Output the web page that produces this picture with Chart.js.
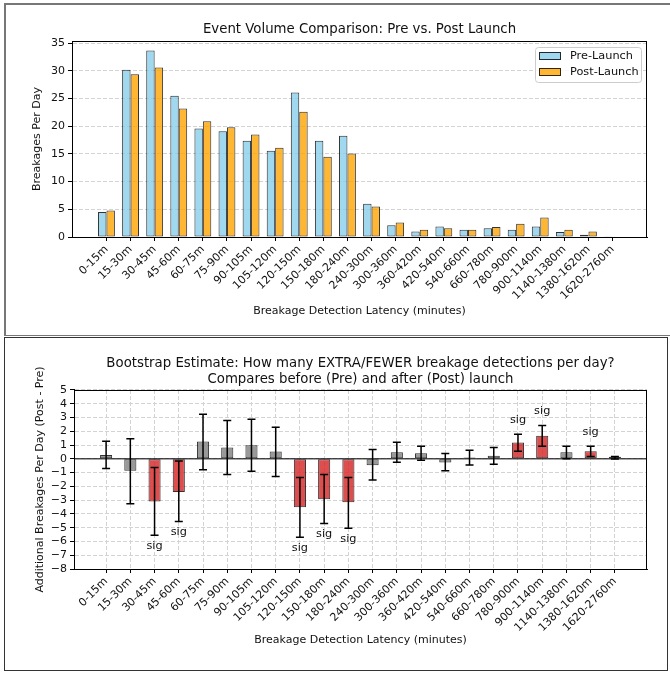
<!DOCTYPE html>
<html lang="en">
<head>
<meta charset="UTF-8" />
<title>Breakage Detection Latency: Pre vs. Post Launch</title>
<script src="https://cdn.jsdelivr.net/npm/chart.js"></script>
<style>
  body { margin: 0; background: #fff; }
  #page { position: relative; width: 670px; height: 673px; overflow: hidden; }
  .rule { position: absolute; background: #777; }
  #bottomFrame { position: absolute; box-sizing: border-box; left: 4px; top: 337px; width: 664px; height: 334px; border: 1.5px solid #333; }
  canvas { position: absolute; left: 0; }
  #topChart { top: 0; }
  #bottomChart { top: 337px; }
</style>
</head>
<body>
<div id="page">
  <div class="rule" style="left:4px; top:3px; width:666px; height:1.5px;"></div>
  <div class="rule" style="left:4px; top:3px; width:1.5px; height:333px;"></div>
  <div class="rule" style="left:4px; top:334.5px; width:666px; height:1.5px;"></div>
  <div id="bottomFrame"></div>
  <canvas id="topChart" width="660" height="333"></canvas>
  <canvas id="bottomChart" width="660" height="332"></canvas>
</div>

<script>
// latency bins (x categories)
const bins = ['0-15m', '15-30m', '30-45m', '45-60m', '60-75m', '75-90m', '90-105m', '105-120m',
  '120-150m', '150-180m', '180-240m', '240-300m', '300-360m', '360-420m', '420-540m', '540-660m',
  '660-780m', '780-900m', '900-1140m', '1140-1380m', '1380-1620m', '1620-2760m'];

// breakages per day
const preLaunch  = [4.5, 30.2, 33.7, 25.5, 19.6, 19.1, 17.4, 15.6, 26.1, 17.4, 18.3, 6.0, 2.1, 1.0, 1.9, 1.3, 1.6, 1.3, 1.9, 0.9, 0.4, 0.05];
const postLaunch = [4.8, 29.4, 30.6, 23.2, 20.9, 19.8, 18.5, 16.1, 22.6, 14.5, 15.1, 5.5, 2.6, 1.3, 1.6, 1.3, 1.8, 2.4, 3.5, 1.3, 1.0, 0.1];
const topYTicks = [0, 5, 10, 15, 20, 25, 30, 35];

// bootstrap difference (post - pre) with confidence interval
const diffMean = [0.27, -0.87, -3.1, -2.4, 1.26, 0.82, 0.99, 0.53, -3.51, -2.93, -3.15, -0.46, 0.48, 0.41, -0.27, 0.1, 0.22, 1.19, 1.67, 0.48, 0.56, 0.15];
const ciLow  = [-0.7, -3.27, -5.55, -4.55, -0.8, -1.14, -0.9, -1.28, -5.69, -4.7, -5.04, -1.53, -0.24, -0.1, -0.87, -0.44, -0.39, 0.56, 0.92, 0.0, 0.17, -0.02];
const ciHigh = [1.28, 1.45, -0.63, -0.15, 3.24, 2.78, 2.88, 2.3, -1.36, -1.14, -1.36, 0.68, 1.21, 0.92, 0.39, 0.63, 0.82, 1.79, 2.42, 0.92, 0.92, 0.17];
const significant = [false, false, true, true, false, false, false, false, true, true, true, false, false, false, false, false, false, true, true, false, true, false];
const bottomYTicks = [-8, -7, -6, -5, -4, -3, -2, -1, 0, 1, 2, 3, 4, 5];

const FONT = "'DejaVu Sans', sans-serif";
Chart.defaults.font.family = FONT;
Chart.defaults.color = '#111';
Chart.defaults.animation = false;

const GRID = '#d3d3d3';
const PRE_COLOR = 'rgba(135,206,235,0.8)';
const POST_COLOR = 'rgba(255,165,0,0.8)';
const EDGE = 'rgba(0,0,0,0.8)';

// box around the plot area (matplotlib spines)
const spines = {
  id: 'spines',
  afterDraw(chart) {
    const { ctx, chartArea: a } = chart;
    ctx.save();
    ctx.strokeStyle = '#000';
    ctx.lineWidth = 1;
    ctx.strokeRect(a.left + 0.5, a.top + 0.5, a.right - a.left - 1, a.bottom - a.top);
    ctx.restore();
  }
};

// legend drawn inside the plot, upper right
const insideLegend = {
  id: 'insideLegend',
  afterDraw(chart) {
    const { ctx, chartArea: a } = chart;
    const w = 106, h = 35;
    const bx = a.right - 6 - w, by = a.top + 6;
    ctx.save();
    ctx.fillStyle = 'rgba(255,255,255,0.8)';
    ctx.strokeStyle = '#cccccc';
    ctx.lineWidth = 1;
    ctx.beginPath();
    ctx.roundRect(bx + 0.5, by + 0.5, w, h, 3);
    ctx.fill();
    ctx.stroke();
    ctx.font = '11.3px ' + FONT;
    ctx.textBaseline = 'middle';
    chart.data.datasets.forEach((ds, i) => {
      const cy = by + 9 + i * 16;
      ctx.fillStyle = ds.backgroundColor;
      ctx.fillRect(bx + 4, cy - 4, 22, 8);
      ctx.strokeStyle = EDGE;
      ctx.strokeRect(bx + 4.5, cy - 3.5, 21, 7);
      ctx.fillStyle = '#111';
      ctx.fillText(ds.label, bx + 35, cy);
    });
    ctx.restore();
  }
};

// zero line, bootstrap CI whiskers and "sig" markers
const errorBars = {
  id: 'errorBars',
  afterDatasetsDraw(chart) {
    const { ctx, chartArea: a, scales: { x, y } } = chart;
    ctx.save();
    const y0 = y.getPixelForValue(0);
    ctx.strokeStyle = 'rgba(0,0,0,0.7)';
    ctx.lineWidth = 1.5;
    ctx.beginPath();
    ctx.moveTo(a.left, y0);
    ctx.lineTo(a.right, y0);
    ctx.stroke();

    ctx.strokeStyle = '#000';
    ctx.lineWidth = 1.5;
    ctx.font = '11.3px ' + FONT;
    ctx.textAlign = 'center';
    ctx.textBaseline = 'middle';
    bins.forEach((b, i) => {
      const px = x.getPixelForValue(i);
      const lo = y.getPixelForValue(ciLow[i]);
      const hi = y.getPixelForValue(ciHigh[i]);
      ctx.beginPath();
      ctx.moveTo(px, lo); ctx.lineTo(px, hi);
      ctx.moveTo(px - 4, lo); ctx.lineTo(px + 4, lo);
      ctx.moveTo(px - 4, hi); ctx.lineTo(px + 4, hi);
      ctx.stroke();
      if (significant[i]) {
        ctx.fillStyle = '#111';
        if (diffMean[i] < 0) ctx.fillText('sig', px, lo + 11);
        else ctx.fillText('sig', px, hi - 14);
      }
    });
    ctx.restore();
  }
};

function binAxis(min, max, onChart) {
  return {
    type: 'linear',
    min: min,
    max: max,
    offset: false,
    afterBuildTicks: axis => { axis.ticks = bins.map((b, i) => ({ value: i })); },
    ticks: {
      autoSkip: false,
      minRotation: 45,
      maxRotation: 45,
      padding: 2,
      font: { size: 11 },
      callback: v => bins[v]
    },
    grid: {
      offset: false,
      drawOnChartArea: onChart,
      color: GRID,
      tickColor: '#000',
      tickLength: 4
    },
    border: { color: '#000', dash: onChart ? [4, 2] : [] },
    title: {
      display: true,
      text: 'Breakage Detection Latency (minutes)',
      font: { size: 11 },
      padding: { top: 0, bottom: 0 }
    }
  };
}

new Chart(document.getElementById('topChart'), {
  type: 'bar',
  data: {
    datasets: [
      { label: 'Pre-Launch', data: preLaunch.map((v, i) => ({ x: i, y: v })),
        backgroundColor: PRE_COLOR, borderColor: EDGE, borderWidth: 1, borderSkipped: false },
      { label: 'Post-Launch', data: postLaunch.map((v, i) => ({ x: i, y: v })),
        backgroundColor: POST_COLOR, borderColor: EDGE, borderWidth: 1, borderSkipped: false }
    ]
  },
  options: {
    responsive: false,
    categoryPercentage: 0.7,
    barPercentage: 1.0,
    layout: { padding: { left: 30.4, right: 13, top: 20, bottom: 15.4 } },
    plugins: {
      legend: { display: false },
      tooltip: { enabled: false },
      title: {
        display: true,
        fullSize: false,
        text: 'Event Volume Comparison: Pre vs. Post Launch',
        font: { size: 13.3, weight: 'normal' },
        color: '#111',
        padding: { top: 2.02, bottom: 3.02 }
      }
    },
    scales: {
      x: Object.assign(binAxis(-1.43, 22.43, false), {
        afterFit: axis => { axis.height = 80.6; }
      }),
      y: {
        min: 0,
        max: 35.4,
        afterBuildTicks: axis => { axis.ticks = topYTicks.map(v => ({ value: v })); },
        afterFit: axis => { axis.width = 41.6; },
        ticks: { font: { size: 11 }, padding: 3 },
        grid: { color: GRID, tickColor: '#000', tickLength: 4 },
        border: { color: '#000', dash: [4, 2] },
        title: { display: true, text: 'Breakages Per Day', font: { size: 11 }, padding: { top: 0, bottom: 0 } }
      }
    }
  },
  plugins: [spines, insideLegend]
});

new Chart(document.getElementById('bottomChart'), {
  type: 'bar',
  data: {
    datasets: [
      { label: 'Post - Pre', data: diffMean.map((v, i) => ({ x: i, y: v })),
        backgroundColor: significant.map(s => s ? 'rgba(214,39,40,0.82)' : 'rgba(128,128,128,0.8)'),
        borderColor: EDGE, borderWidth: 1, borderSkipped: false,
        categoryPercentage: 1.0, barPercentage: 0.5 }
    ]
  },
  options: {
    responsive: false,
    layout: { padding: { left: 33.4, right: 13, top: 17.35, bottom: 22.4 } },
    plugins: {
      legend: { display: false },
      tooltip: { enabled: false },
      title: {
        display: true,
        fullSize: false,
        text: ['Bootstrap Estimate: How many EXTRA/FEWER breakage detections per day?',
               'Compares before (Pre) and after (Post) launch'],
        font: { size: 13.3, weight: 'normal', lineHeight: 1.15 },
        color: '#111',
        padding: { top: 2, bottom: 3.05 }
      }
    },
    scales: {
      x: Object.assign(binAxis(-1.325, 22.325, true), {
        afterFit: axis => { axis.height = 77.6; }
      }),
      y: {
        min: -8,
        max: 5,
        afterBuildTicks: axis => { axis.ticks = bottomYTicks.map(v => ({ value: v })); },
        ticks: {
          autoSkip: false,
          font: { size: 11 },
          padding: 3,
          callback: v => (v < 0 ? '\u2212' + Math.abs(v) : String(v))
        },
        afterFit: axis => { axis.width = 40.6; },
        grid: { color: GRID, tickColor: '#000', tickLength: 4 },
        border: { color: '#000', dash: [4, 2] },
        title: { display: true, text: 'Additional Breakages Per Day (Post - Pre)', font: { size: 11 }, padding: { top: 0, bottom: 0 } }
      }
    }
  },
  plugins: [errorBars, spines]
});
</script>
</body>
</html>
